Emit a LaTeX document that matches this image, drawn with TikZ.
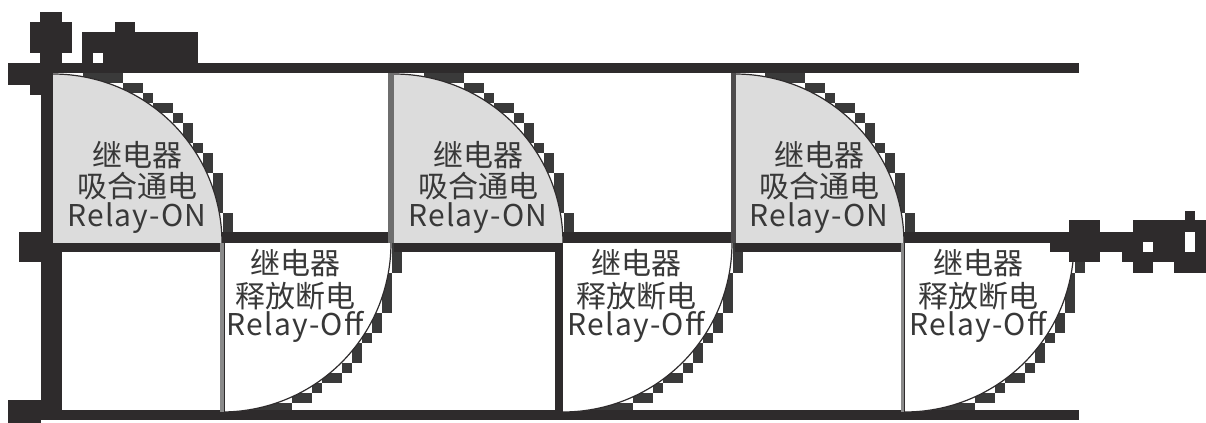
\documentclass[tikz,border=0pt]{standalone}
\usepackage{fontspec}
\newfontfamily\cjk{Noto Sans CJK SC}
\newfontfamily\latf{Noto Sans CJK SC}[LetterSpace=4]
\definecolor{ink}{HTML}{2E2B2C}
\definecolor{onfill}{HTML}{DCDCDC}
\definecolor{fringe}{HTML}{3A3A3A}
\definecolor{edgegray}{HTML}{8A8A8A}
\definecolor{txt}{HTML}{383838}
\begin{document}
\begin{tikzpicture}[x=0.5pt,y=-0.5pt,
  cjkl/.style={font=\cjk\fontsize{15}{15}\selectfont, text=txt, inner sep=0pt, anchor=center},
  latl/.style={font=\latf\fontsize{15}{15}\selectfont, text=txt, inner sep=0pt, anchor=center},
  inkbox/.style={fill=ink, draw=none},
  arcline/.style={draw=ink, line width=0.6pt},
]
\useasboundingbox (0,0) rectangle (1206,423);
\fill[white] (0,0) rectangle (1206,423);

% pixel fringe along the arcs (boundary cells of a 10px grid)
\foreach \L in {53,394,735} {
  \foreach \i in {0,...,16} {
    \pgfmathsetmacro\t{10*ceil(sqrt(285.61-\i*\i)+0.3)}
    \fill[fringe] ({\L+10*\i},{243-\t}) rectangle ({\L+10*\i+10},{253-\t});
    \fill[fringe] ({\L+\t-10},{243-10*\i}) rectangle ({\L+\t},{233-10*\i});
  }
}
\foreach \M in {222,563,905} {
  \foreach \i in {0,...,16} {
    \pgfmathsetmacro\t{10*ceil(sqrt(285.61-\i*\i)+0.3)}
    \pgfmathsetmacro\b{min(420,243+\t)}
    \fill[fringe] ({\M+10*\i},{233+\t}) rectangle ({\M+10*\i+10},\b);
    \fill[fringe] ({\M+\t-10},{243+10*\i}) rectangle ({\M+\t},{253+10*\i});
  }
}

% frame lines
\fill[inkbox] (8,63) rectangle (1079,73);
\fill[inkbox] (19,232) rectangle (1075,243);
\fill[inkbox] (8,410) rectangle (1079,420);
\fill[inkbox] (41,12) rectangle (53,410);
\fill[inkbox] (53,243) rectangle (62,410);
\fill[inkbox] (19,232) rectangle (41,262);
\fill[inkbox] (8,400) rectangle (41,423);
\fill[inkbox] (555,243) rectangle (564,420);

% relay-on quadrants
\foreach \L [count=\k] in {53,394,735} {
  \fill[onfill] (\L,243) -- plot[domain=90:0, samples=60] ({\L+169*cos(\x)},{243-169*sin(\x)}) -- cycle;
  \draw[arcline] plot[domain=90:0, samples=60] ({\L+169*cos(\x)},{243-169*sin(\x)});
  \fill[inkbox] (\L,243) rectangle ({\L+169},252);
  \node[cjkl] (ona\k) at ({\L+84},155) {继电器};
  \node[cjkl] (onb\k) at ({\L+84},186) {吸合通电};
  \node[latl] (onc\k) at ({\L+84},218) {Relay-ON};
}
\fill[edgegray!80!black] (388,73) rectangle (394,243);
\fill[ink!85] (731,73) rectangle (736,243);

% relay-off quadrants
\foreach \M [count=\k] in {222,563,905} {
  \fill[white] (\M,243) -- plot[domain=0:90, samples=60] ({\M+169*cos(\x)},{243+169*sin(\x)}) -- cycle;
  \draw[arcline] plot[domain=0:90, samples=60] ({\M+169*cos(\x)},{243+169*sin(\x)});
  \node[cjkl] (offa\k) at ({\M+73},263) {继电器};
  \node[cjkl] (offb\k) at ({\M+73},296) {释放断电};
  \node[latl] (offc\k) at ({\M+73},327) {Relay-Off};
}
\fill[edgegray] (220,243) rectangle (225,412);
\draw[ink, line width=0.4pt] (224,243) -- (224,412);
\fill[edgegray] (901,243) rectangle (905,412);
\draw[ink, line width=0.4pt] (904,243) -- (904,412);

% mosaic blocks top left
\fill[inkbox] (40,12) rectangle (62,63);
\fill[inkbox] (30,22) rectangle (72,53);
\fill[inkbox] (82,32) rectangle (198,63);
\fill[white] (93,53) rectangle (103,63);
\fill[inkbox] (115,22) rectangle (135,32);
\fill[inkbox] (8,73) rectangle (41,85);
\fill[inkbox] (30,85) rectangle (41,95);

% mosaic blocks right
\fill[inkbox] (1050,232) rectangle (1206,252);
\fill[inkbox] (1069,220) rectangle (1100,262);
\fill[inkbox] (1133,220) rectangle (1206,232);
\fill[inkbox] (1122,252) rectangle (1206,262);
\fill[inkbox] (1133,262) rectangle (1153,273);
\fill[inkbox] (1174,262) rectangle (1206,273);
\fill[inkbox] (1185,211) rectangle (1195,220);
\fill[white] (1143,242) rectangle (1153,252);
\fill[white] (1185,232) rectangle (1195,252);
\end{tikzpicture}
\end{document}
